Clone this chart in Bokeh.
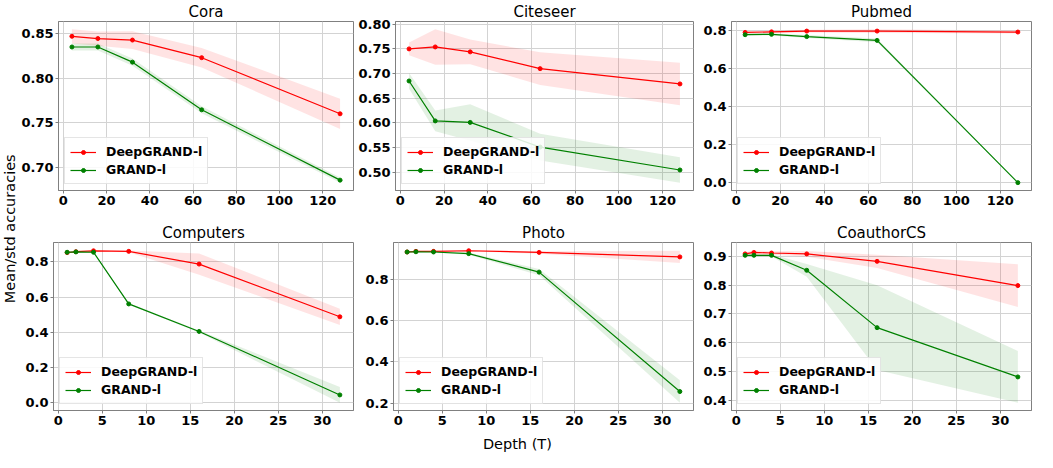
import math
from bokeh.plotting import figure
from bokeh.models import Range1d, FixedTicker, NumeralTickFormatter, Legend, LegendItem
from bokeh.layouts import row, column
from bokeh.core.properties import value
from bokeh.embed import file_html
from bokeh.resources import INLINE

# ---------------- data ----------------
depth_big = [4, 16, 32, 64, 128]
depth_small = [1, 2, 4, 8, 16, 32]

cora_deep_mean = [0.847, 0.8445, 0.8428, 0.823, 0.760]
cora_deep_std = [0.008, 0.008, 0.010, 0.011, 0.017]
cora_grand_mean = [0.835, 0.835, 0.818, 0.7645, 0.6855]
cora_grand_std = [0.004, 0.004, 0.004, 0.004, 0.003]

citeseer_deep_mean = [0.750, 0.754, 0.744, 0.710, 0.679]
citeseer_deep_std = [0.013, 0.036, 0.025, 0.033, 0.043]
citeseer_grand_mean = [0.685, 0.604, 0.601, 0.551, 0.5045]
citeseer_grand_std = [0.016, 0.021, 0.037, 0.027, 0.026]

pubmed_deep_mean = [0.790, 0.793, 0.797, 0.797, 0.792]
pubmed_deep_std = [0.006, 0.006, 0.007, 0.010, 0.008]
pubmed_grand_mean = [0.778, 0.780, 0.768, 0.748, 0.0]
pubmed_grand_std = [0.006, 0.006, 0.008, 0.010, 0.001]

computers_deep_mean = [0.852, 0.857, 0.862, 0.859, 0.787, 0.488]
computers_deep_std = [0.004, 0.004, 0.004, 0.005, 0.060, 0.046]
computers_grand_mean = [0.854, 0.856, 0.854, 0.561, 0.405, 0.045]
computers_grand_std = [0.004, 0.003, 0.004, 0.005, 0.006, 0.045]

photo_deep_mean = [0.935, 0.938, 0.938, 0.941, 0.933, 0.911]
photo_deep_std = [0.003, 0.003, 0.003, 0.003, 0.006, 0.030]
photo_grand_mean = [0.935, 0.936, 0.935, 0.927, 0.837, 0.256]
photo_grand_std = [0.003, 0.003, 0.003, 0.005, 0.015, 0.055]

cs_deep_mean = [0.908, 0.913, 0.911, 0.908, 0.882, 0.798]
cs_deep_std = [0.006, 0.008, 0.006, 0.010, 0.023, 0.074]
cs_grand_mean = [0.903, 0.903, 0.903, 0.851, 0.652, 0.481]
cs_grand_std = [0.004, 0.004, 0.004, 0.022, 0.147, 0.090]

xticks_big = [0, 20, 40, 60, 80, 100, 120]
xticks_small = [0, 5, 10, 15, 20, 25, 30]
yticks_cora = [0.70, 0.75, 0.80, 0.85]
yticks_citeseer = [0.50, 0.55, 0.60, 0.65, 0.70, 0.75, 0.80]
yticks_pubmed = [0.0, 0.2, 0.4, 0.6, 0.8]
yticks_computers = [0.0, 0.2, 0.4, 0.6, 0.8]
yticks_photo = [0.2, 0.4, 0.6, 0.8]
yticks_cs = [0.4, 0.5, 0.6, 0.7, 0.8, 0.9]

series_names = ["DeepGRAND-l", "GRAND-l"]
titles = ["Cora", "Citeseer", "Pubmed", "Computers", "Photo", "CoauthorCS"]

FONT = "DejaVu Sans"
RED = "#ff0000"
GREEN = "#008000"
SPINE = "#808080"


def make(title, x, dm, ds, gm, gs, xticks, yticks, yfmt, width, height,
         mbl, mbr, mbt, mbb):
    lo = min(min(m - s for m, s in zip(dm, ds)), min(m - s for m, s in zip(gm, gs)))
    hi = max(max(m + s for m, s in zip(dm, ds)), max(m + s for m, s in zip(gm, gs)))
    ypad = 0.05 * (hi - lo)
    xpad = 0.05 * (max(x) - min(x))
    p = figure(width=width, height=height, output_backend="svg",
               toolbar_location=None,
               x_range=Range1d(min(x) - xpad, max(x) + xpad),
               y_range=Range1d(lo - ypad, hi + ypad),
               min_border_left=mbl, min_border_right=mbr,
               min_border_top=mbt, min_border_bottom=mbb)
    p.title.text = title
    p.title.text_font = FONT
    p.title.text_font_size = "15px"
    p.title.text_font_style = "normal"
    p.title.text_color = "black"
    p.title.align = "center"
    p.title.standoff = 1
    p.title.offset = 0
    p.background_fill_color = "white"
    p.border_fill_color = "white"
    p.outline_line_color = SPINE
    p.outline_line_width = 1

    for ax in (p.xaxis[0], p.yaxis[0]):
        ax.major_label_text_font = FONT
        ax.major_label_text_font_size = "13px"
        ax.major_label_text_font_style = "bold"
        ax.major_label_text_color = "black"
        ax.axis_line_color = SPINE
        ax.major_tick_line_color = SPINE
        ax.major_tick_out = 3
        ax.major_tick_in = 0
        ax.minor_tick_line_color = None
        ax.major_label_standoff = 2
    p.xaxis[0].ticker = FixedTicker(ticks=xticks)
    p.yaxis[0].ticker = FixedTicker(ticks=yticks)
    p.yaxis[0].formatter = NumeralTickFormatter(format=yfmt)
    p.xaxis[0].formatter = NumeralTickFormatter(format="0")

    p.xgrid.grid_line_color = "#d3d3d3"
    p.ygrid.grid_line_color = "#d3d3d3"
    p.xgrid.ticker = FixedTicker(ticks=xticks)
    p.ygrid.ticker = FixedTicker(ticks=yticks)

    items = []
    for mean, std, col in ((dm, ds, RED), (gm, gs, GREEN)):
        up = [m + s for m, s in zip(mean, std)]
        dn = [m - s for m, s in zip(mean, std)]
        p.varea(x=x, y1=dn, y2=up, fill_color=col, fill_alpha=0.11)
    for mean, col, name in ((dm, RED, series_names[0]), (gm, GREEN, series_names[1])):
        ln = p.line(x, mean, line_color=col, line_width=1.2)
        sc = p.scatter(x, mean, size=4, fill_color=col, line_color=col, line_width=1)
        items.append(LegendItem(label=name, renderers=[ln, sc]))

    leg = Legend(items=items, location="bottom_left")
    leg.label_text_font = FONT
    leg.label_text_font_size = "12.5px"
    leg.label_text_font_style = "bold"
    leg.label_text_color = "black"
    leg.border_line_color = "#cccccc"
    leg.background_fill_alpha = 0.85
    leg.margin = 6
    leg.padding = 5
    leg.spacing = 1
    leg.glyph_width = 26
    leg.glyph_height = 10
    leg.label_height = 17
    leg.label_standoff = 10
    p.add_layout(leg, "center")
    return p


TOP_H = 221
BOT_H = 209

f1 = make(titles[0], depth_big, cora_deep_mean, cora_deep_std, cora_grand_mean, cora_grand_std,
          xticks_big, yticks_cora, "0.00", 337, TOP_H, 35, 2, 0, 31)
f2 = make(titles[1], depth_big, citeseer_deep_mean, citeseer_deep_std, citeseer_grand_mean,
          citeseer_grand_std, xticks_big, yticks_citeseer, "0.00", 340, TOP_H, 38, 2, 0, 31)
f3 = make(titles[2], depth_big, pubmed_deep_mean, pubmed_deep_std, pubmed_grand_mean,
          pubmed_grand_std, xticks_big, yticks_pubmed, "0.0", 339, TOP_H, 36, 3, 0, 31)
f4 = make(titles[3], depth_small, computers_deep_mean, computers_deep_std, computers_grand_mean,
          computers_grand_std, xticks_small, yticks_computers, "0.0", 337, BOT_H, 35, 2, 0, 20)
f5 = make(titles[4], depth_small, photo_deep_mean, photo_deep_std, photo_grand_mean,
          photo_grand_std, xticks_small, yticks_photo, "0.0", 340, BOT_H, 38, 2, 0, 20)
f6 = make(titles[5], depth_small, cs_deep_mean, cs_deep_std, cs_grand_mean, cs_grand_std,
          xticks_small, yticks_cs, "0.0", 339, BOT_H, 36, 3, 0, 20)


def label_fig(width, height, text, angle, xpos, ypos):
    q = figure(width=width, height=height, output_backend="svg", toolbar_location=None,
               x_range=Range1d(0, 1), y_range=Range1d(0, 1),
               x_axis_type=None, y_axis_type=None, min_border=0)
    q.outline_line_color = None
    q.text(x=[xpos], y=[ypos], text=[text], angle=angle, text_align="center",
           text_baseline="middle", text_font=value(FONT), text_font_size="14.5px",
           text_color="black")
    return q


ylab = label_fig(18, 452, "Mean/std accuracies", math.pi / 2, 0.5, 0.495)
xlab = label_fig(1016, 22, "Depth (T)", 0, 0.491, 0.4)

layout = row(ylab, column(row(f1, f2, f3), row(f4, f5, f6), xlab))

open("out.html", "w").write(file_html(layout, INLINE))
